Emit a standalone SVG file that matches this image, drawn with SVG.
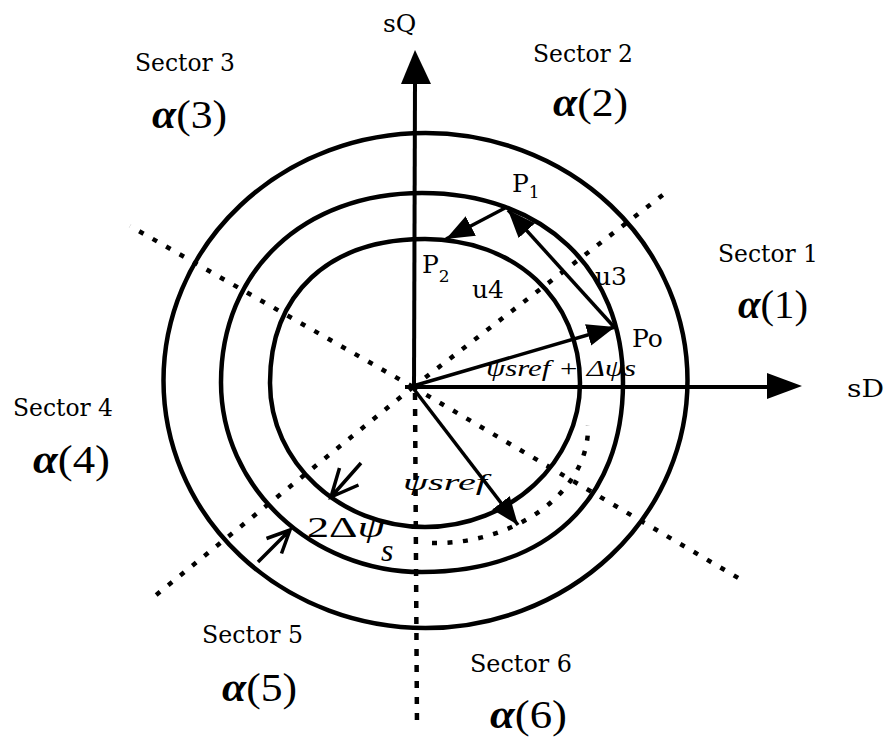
<svg xmlns="http://www.w3.org/2000/svg" width="885" height="739" viewBox="0 0 885 739">
<style>
.circ{fill:none;stroke:#000;stroke-width:4.5}
.axis{fill:none;stroke:#000;stroke-width:4}
.dot{fill:none;stroke:#000;stroke-width:4.5;stroke-dasharray:5 10.5}
.vec{fill:none;stroke:#000;stroke-width:3.5}
.sec{font-family:"DejaVu Serif","Liberation Serif",serif;font-size:24px;fill:#000}
.lbl{font-family:"DejaVu Serif","Liberation Serif",serif;font-size:25px;fill:#000}
.al{font-family:"Liberation Serif","DejaVu Serif",serif;font-size:40px;fill:#000}
.math{font-family:"Liberation Serif","DejaVu Serif",serif;font-style:italic;fill:#000}
</style>
<defs>
<marker id="tri" markerUnits="userSpaceOnUse" markerWidth="30" markerHeight="24" refX="28" refY="11" orient="auto">
<path d="M0,0 L28,11 L0,22 Z" fill="#000"/>
</marker>
</defs>
<rect width="885" height="739" fill="#fff"/>

<g id="sector-lines">
<path class="dot" d="M413,387 L668,191"/>
<path class="dot" d="M413,387 L130,226"/>
<path class="dot" d="M413,387 L150,600"/>
<path class="dot" d="M413,387 L740,579"/>
<path class="axis" d="M415,393 L417,728" style="stroke-width:4.5;stroke-dasharray:7 9"/>
<path class="dot" d="M432,543 C510,545 590,495 588,425"/>
</g>

<g id="circles">
<ellipse id="outer-circle" class="circ" cx="425.5" cy="380.5" rx="262" ry="247.5"/>
<path id="middle-circle" class="circ" d="M623,382.5 C623,500 546.6,572 422,572 C311.4,572 221,486.7 221,382.5 C221,270.7 303.4,193 422,193 C542.6,193 623,268.8 623,382.5 Z"/>
<path id="inner-circle" class="circ" d="M580,383 C580,462.2 510.25,527 425,527 C339.75,527 270,462.2 270,383 C270,293.7 328.9,239 425,239 C514.9,239 580,299.5 580,383 Z"/>
</g>

<g id="axes">
<path class="axis" d="M414,387 L415,82"/>
<polygon points="415,50 401,84 431,84" fill="#000"/>
<path class="axis" d="M405,387 L770,387"/>
<polygon points="767,373 802,386 767,399" fill="#000"/>
</g>

<g id="connectors">
<path class="vec" d="M413,386 L615,327" marker-end="url(#tri)"/>
<path class="vec" d="M615,328 L508,210" marker-end="url(#tri)"/>
<path class="vec" d="M505,208 L446,239" marker-end="url(#tri)"/>
<path class="vec" d="M413,388 L518,525" marker-end="url(#tri)"/>
<path class="vec" d="M361,463 L331,497 M358.5,485 L331,497 L339.5,468"/>
<path class="vec" d="M258,562 L290,530 M266.5,538.5 L290,530 L281.5,553.5"/>
</g>

<g id="labels">
<text class="lbl" x="383" y="32">sQ</text>
<text class="lbl" x="847" y="397" textLength="37" lengthAdjust="spacingAndGlyphs">sD</text>
<text class="lbl" x="512" y="192" font-size="26">P<tspan font-size="17" dy="6">1</tspan></text>
<text class="lbl" x="422" y="273">P<tspan font-size="17" dy="9">2</tspan></text>
<text class="lbl" x="472" y="298" font-size="26">u4</text>
<text class="lbl" x="595" y="285" font-size="26">u3</text>
<text class="lbl" x="632" y="347">Po</text>
<text class="math" x="486" y="376" font-size="24" textLength="150" lengthAdjust="spacingAndGlyphs">ψsref + Δψs</text>
<text class="math" x="403" y="490" font-size="24" textLength="84" lengthAdjust="spacingAndGlyphs">ψsref</text>
<text class="math" x="307" y="537" font-size="30" textLength="78" lengthAdjust="spacingAndGlyphs"><tspan font-style="normal">2Δ</tspan>ψ</text>
<text class="math" x="381" y="561" font-size="32">s</text>
</g>

<g id="sector-1"><text class="sec" x="718" y="262" textLength="100" lengthAdjust="spacingAndGlyphs">Sector 1</text>
<text class="al" x="738" y="318" textLength="70" lengthAdjust="spacingAndGlyphs"><tspan font-style="italic" font-weight="bold">α</tspan>(1)</text></g>
<g id="sector-2"><text class="sec" x="533" y="62" textLength="100" lengthAdjust="spacingAndGlyphs">Sector 2</text>
<text class="al" x="553" y="116" textLength="75" lengthAdjust="spacingAndGlyphs"><tspan font-style="italic" font-weight="bold">α</tspan>(2)</text></g>
<g id="sector-3"><text class="sec" x="135" y="71" textLength="100" lengthAdjust="spacingAndGlyphs">Sector 3</text>
<text class="al" x="152" y="128" textLength="75" lengthAdjust="spacingAndGlyphs"><tspan font-style="italic" font-weight="bold">α</tspan>(3)</text></g>
<g id="sector-4"><text class="sec" x="13" y="416" textLength="100" lengthAdjust="spacingAndGlyphs">Sector 4</text>
<text class="al" x="33" y="473" textLength="77" lengthAdjust="spacingAndGlyphs"><tspan font-style="italic" font-weight="bold">α</tspan>(4)</text></g>
<g id="sector-5"><text class="sec" x="202" y="643" textLength="101" lengthAdjust="spacingAndGlyphs">Sector 5</text>
<text class="al" x="222" y="701" textLength="75" lengthAdjust="spacingAndGlyphs"><tspan font-style="italic" font-weight="bold">α</tspan>(5)</text></g>
<g id="sector-6"><text class="sec" x="470" y="672" textLength="102" lengthAdjust="spacingAndGlyphs">Sector 6</text>
<text class="al" x="490" y="728" textLength="77" lengthAdjust="spacingAndGlyphs"><tspan font-style="italic" font-weight="bold">α</tspan>(6)</text></g>
</svg>
